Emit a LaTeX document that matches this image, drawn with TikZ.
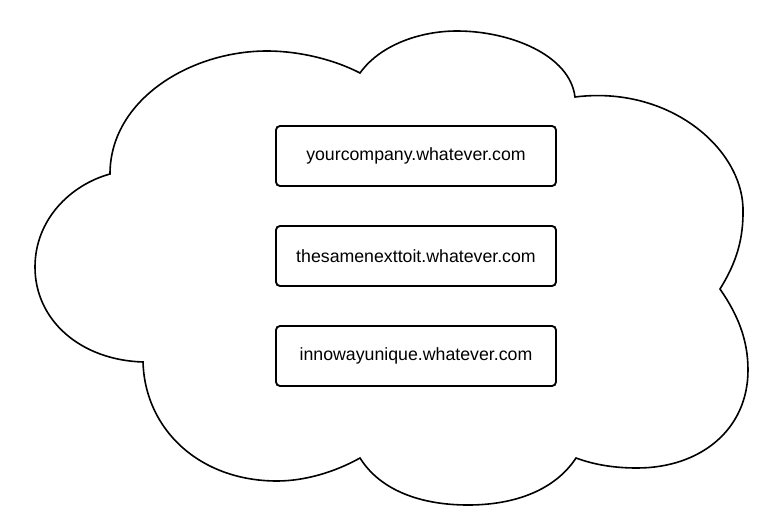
\documentclass[tikz,border=0pt]{standalone}
\usepackage{fontspec}
\setmainfont{Liberation Sans}
\begin{document}
\begin{tikzpicture}[x=0.75pt,y=0.75pt,yscale=-1,xscale=1,
    hostbox/.style={draw,line width=1.4pt,rounded corners=3pt,minimum width=210pt,minimum height=45pt,inner sep=0pt,font=\fontsize{13.3}{16}\selectfont}]
        \useasboundingbox (0,0) rectangle (779,525); %set diagram size to the reference

        %Shape: Cloud [id:cloud]
        \draw  [line width=1.2pt]  (360,73) .. controls (380,45) and (420,31) .. (457,31) .. controls (510,31) and (570,55) .. (575,97)
            .. controls (670,85) and (745,150) .. (743,213) .. controls (743,245) and (733,268) .. (720,289)
            .. controls (738,315) and (748,340) .. (748,370) .. controls (748,430) and (700,468) .. (637,468) .. controls (615,468) and (595,465) .. (576,458)
            .. controls (555,490) and (515,505) .. (468,505) .. controls (420,505) and (380,490) .. (360,458)
            .. controls (335,472) and (305,481) .. (277,481) .. controls (200,481) and (145,430) .. (143,362)
            .. controls (80,360) and (35,320) .. (35,267) .. controls (35,220) and (70,185) .. (110,174)
            .. controls (110,100) and (190,51) .. (267,51) .. controls (300,51) and (335,60) .. (360,73) -- cycle ;

        %Shape: Rectangle [id:host1]
        \node [hostbox] (host1) at (416,156) {yourcompany.whatever.com};
        %Shape: Rectangle [id:host2]
        \node [hostbox] (host2) at (416,256) {thesamenexttoit.whatever.com};
        %Shape: Rectangle [id:host3]
        \node [hostbox] (host3) at (416,356) {innowayunique.whatever.com};

    \end{tikzpicture}
\end{document}
